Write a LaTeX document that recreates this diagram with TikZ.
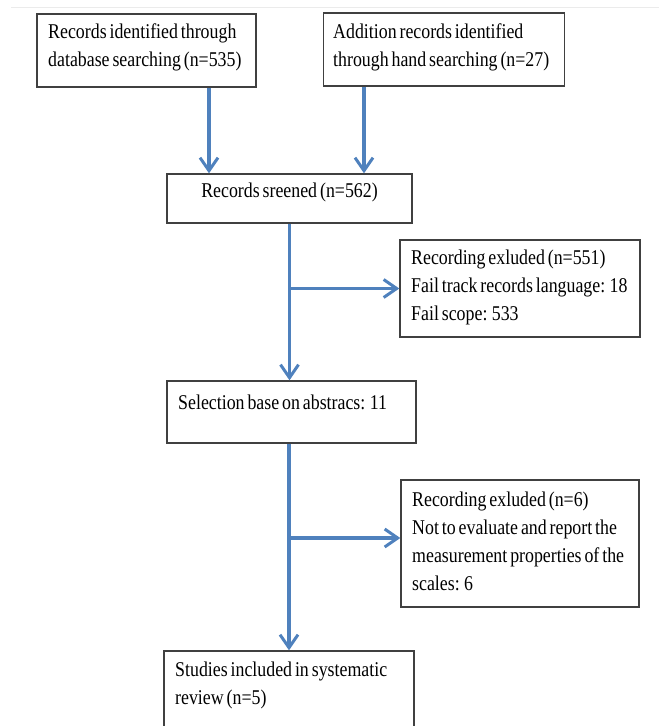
\documentclass[tikz,border=0pt]{standalone}
\usepackage{fontspec}
\setmainfont{Liberation Serif}[FakeStretch=0.85, WordSpace=0.65]
\usetikzlibrary{arrows.meta}

\definecolor{flowblue}{RGB}{79,129,189}
\definecolor{boxgray}{RGB}{64,64,64}

\begin{document}
\begin{tikzpicture}[x=1pt, y=-1pt,
	box/.style={draw=boxgray, line width=1.4pt, fill=white, inner sep=0pt},
	txt/.style={inner sep=0pt, align=left, anchor=west, font=\fontsize{21}{28}\selectfont},
	flow/.style={draw=flowblue, line width=3.2pt, -{Straight Barb[length=13pt, width=18pt, line width=3pt]}}]

	\clip (0, 0) rectangle (659, 726);
	\draw[black!8, line width=1pt] (11, 7) -- (659, 7);

	% boxes
	\node[box, minimum width=219pt, minimum height=73pt] (db) at (146.5, 50.5) {};
	\node[box, minimum width=241.5pt, minimum height=73pt] (hand) at (444, 49.5) {};
	\node[box, minimum width=245pt, minimum height=49pt] (screen) at (289.5, 198.5) {};
	\node[box, minimum width=240pt, minimum height=97pt] (excl1) at (520, 288.5) {};
	\node[box, minimum width=249pt, minimum height=62pt] (abs) at (291.5, 412) {};
	\node[box, minimum width=238pt, minimum height=127pt] (excl2) at (520, 543.5) {};
	\node[box, minimum width=250pt, minimum height=80pt] (incl) at (289, 691) {};

	% texts
	\node[txt] (dbtxt) at (48, 47.5) {Records identified through\\database searching (n=535)};
	\node[txt] (handtxt) at (333, 47.5) {Addition records identified\\through hand searching (n=27)};
	\node[txt, anchor=center] (screentxt) at (289.5, 192) {Records sreened (n=562)};
	\node[txt] (excl1txt) at (411, 287.5) {Recording exluded (n=551)\\Fail track records language: 18\\Fail scope: 533};
	\node[txt] (abstxt) at (178, 402) {Selection base on abstracs: 11};
	\node[txt] (excl2txt) at (412, 541.5) {Recording exluded (n=6)\\Not to evaluate and report the\\measurement properties of the\\scales: 6};
	\node[txt] (incltxt) at (175, 685) {Studies included in systematic\\review (n=5)};

	% arrows
	\draw[flow] ([xshift=62.5pt]db.south) -- ([xshift=62.5pt]db.south |- screen.north);
	\draw[flow] ([xshift=-80pt]hand.south) -- ([xshift=-80pt]hand.south |- screen.north);

	\draw[flow] (screen.south) -- (screen.south |- abs.north);
	\draw[flow] (screen.south |- excl1.west) -- (excl1.west);

	\draw[flow] (abs.south -| incl.north) -- (incl.north);
	\draw[flow] ([yshift=5.5pt]excl2.west -| incl.north) -- ([yshift=5.5pt]excl2.west);

\end{tikzpicture}
\end{document}
